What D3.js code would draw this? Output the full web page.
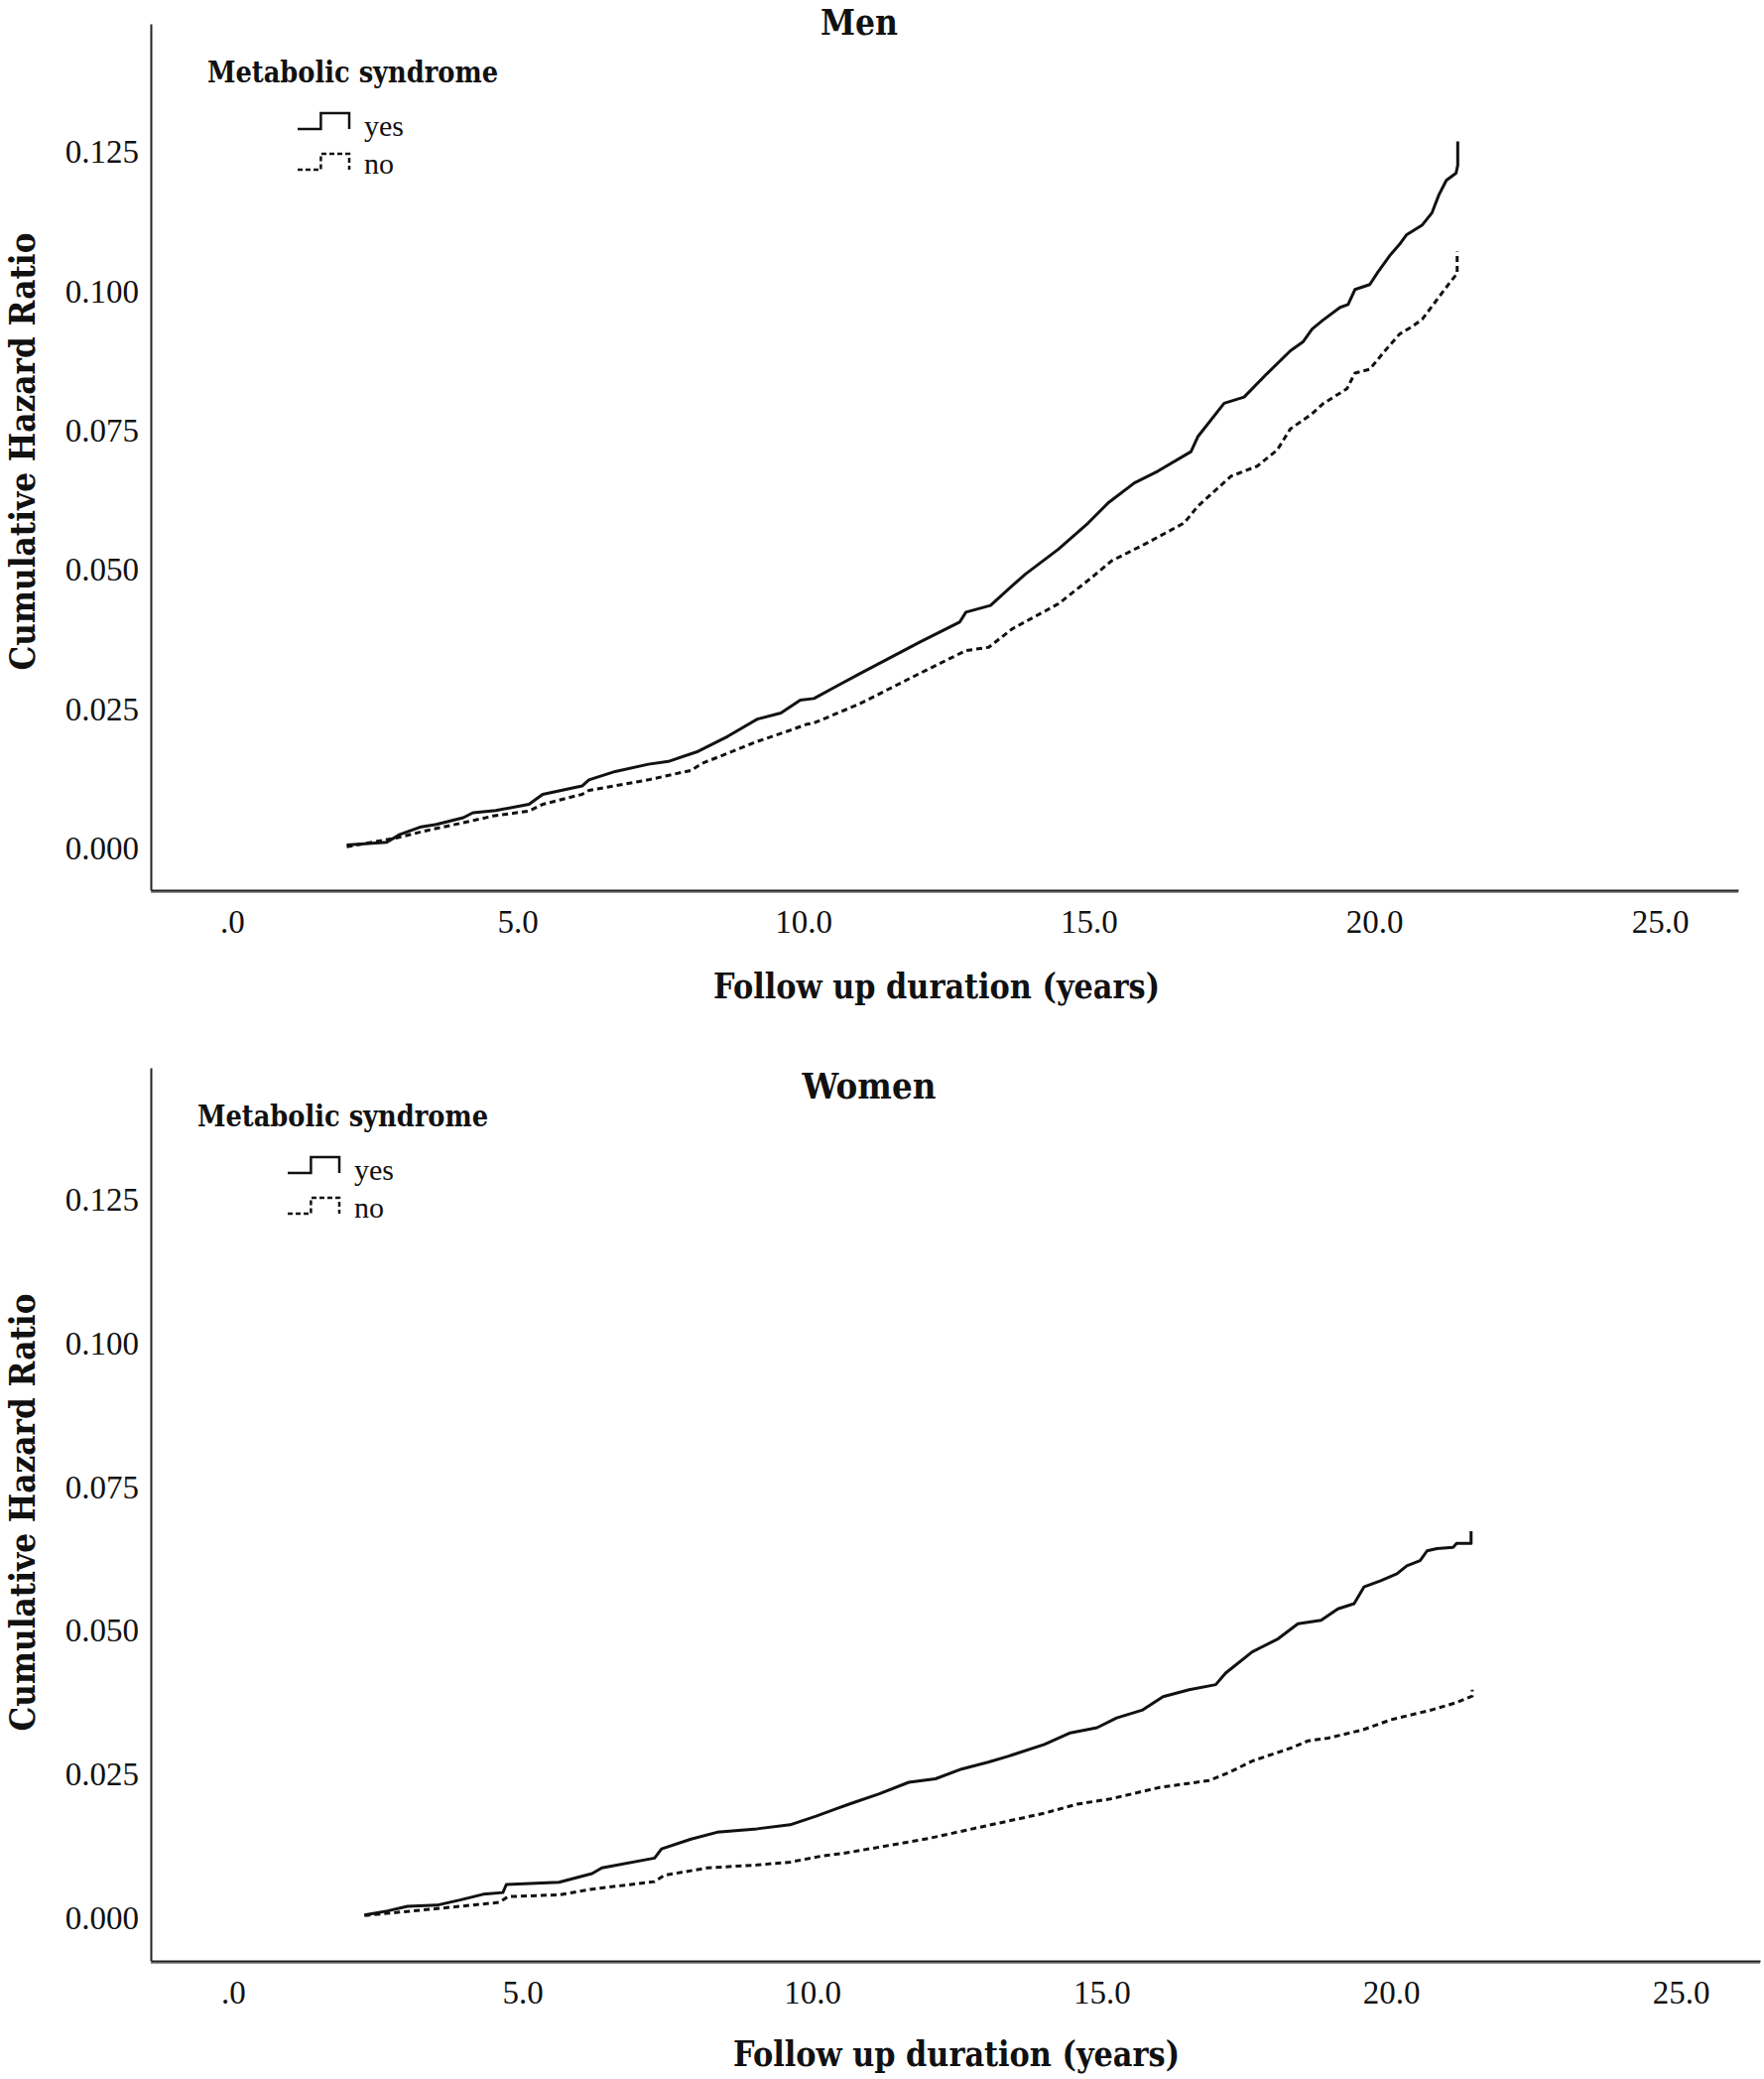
<!DOCTYPE html>
<html>
<head>
<meta charset="utf-8">
<script src="https://cdn.jsdelivr.net/npm/d3@7"></script>
<style>
  body { margin: 0; background: #fff; }
  svg { display: block; }
  .tick text { font-family: "Liberation Serif", serif; font-size: 33px; fill: #111; }
  .bold { font-family: "DejaVu Serif", serif; font-weight: bold; fill: #111; }
  .legend-item { font-family: "Liberation Serif", serif; font-size: 30px; fill: #111; }
</style>
</head>
<body>
<svg id="chart" width="1778" height="2095"></svg>
<script>
// ---- data: [years, cumulative hazard] ----
const menYes = [[2.01,0.0006],[2.71,0.0011],[2.94,0.0025],[3.29,0.0038],[3.58,0.0043],[4.05,0.0055],[4.22,0.0064],
  [4.62,0.0068],[5.2,0.0079],[5.44,0.0097],[6.13,0.0112],[6.25,0.0123],[6.71,0.0138],[7.29,0.0151],[7.64,0.0156],
  [8.16,0.0174],[8.68,0.0201],[9.2,0.0232],[9.61,0.0243],[9.95,0.0266],[10.19,0.0269],[10.6,0.0292],[11.0,0.0314],
  [12.04,0.037],[12.74,0.0406],[12.85,0.0424],[13.28,0.0436],[13.6,0.0466],[13.89,0.0492],[14.47,0.0537],[14.99,0.0584],
  [15.34,0.062],[15.8,0.0656],[16.21,0.0677],[16.79,0.0712],[16.91,0.0739],[17.37,0.0799],[17.72,0.081],[18.12,0.0852],
  [18.53,0.0893],[18.75,0.0909],[18.91,0.0932],[19.1,0.0948],[19.4,0.0971],[19.54,0.0976],[19.66,0.1003],[19.92,0.1012],
  [20.06,0.1034],[20.27,0.1064],[20.44,0.1084],[20.56,0.1101],[20.84,0.1119],[21.01,0.1141],[21.13,0.1173],[21.26,0.1199],
  [21.43,0.1212],[21.46,0.1226],[21.46,0.1269]];
const menNo = [[2.01,0.0003],[2.89,0.0019],[3.41,0.0032],[4.05,0.0046],[4.57,0.0058],[5.2,0.0067],[5.44,0.0079],
  [6.13,0.0097],[6.25,0.0104],[7.29,0.0123],[8.04,0.014],[8.22,0.0152],[9.2,0.0192],[9.72,0.021],[10.07,0.0223],
  [10.19,0.0225],[11.0,0.026],[12.04,0.0314],[12.85,0.0355],[13.25,0.0361],[13.66,0.0394],[14.47,0.0439],[15.05,0.0486],
  [15.4,0.0516],[15.98,0.0546],[16.67,0.0584],[16.91,0.0614],[17.49,0.0668],[17.95,0.0686],[18.3,0.0715],[18.53,0.0753],
  [18.91,0.078],[19.1,0.0798],[19.52,0.0825],[19.66,0.0853],[19.92,0.086],[20.21,0.0896],[20.44,0.0923],[20.67,0.0937],
  [20.84,0.095],[21.01,0.0973],[21.31,0.1014],[21.45,0.1032],[21.45,0.1071]];
const womenYes = [[2.27,0.0005],[2.67,0.0012],[3.01,0.002],[3.52,0.0022],[3.92,0.0031],[4.32,0.0041],[4.66,0.0044],
  [4.72,0.0058],[5.63,0.0062],[6.2,0.0077],[6.37,0.0087],[7.28,0.0104],[7.4,0.012],[7.91,0.0137],[8.36,0.0149],
  [9.05,0.0155],[9.62,0.0162],[10.07,0.0177],[10.42,0.019],[10.64,0.0198],[11.16,0.0216],[11.67,0.0236],[12.13,0.0242],
  [12.58,0.0259],[13.04,0.0271],[13.44,0.0283],[14.01,0.0302],[14.46,0.0322],[14.92,0.0331],[15.26,0.0348],[15.71,0.0362],
  [16.06,0.0385],[16.51,0.0397],[16.97,0.0406],[17.14,0.0426],[17.6,0.0463],[18.05,0.0486],[18.39,0.0512],[18.79,0.0518],
  [19.08,0.0538],[19.36,0.0547],[19.53,0.0576],[19.82,0.0587],[20.1,0.0599],[20.27,0.0613],[20.5,0.0622],[20.62,0.0639],
  [20.79,0.0643],[21.07,0.0645],[21.13,0.0652],[21.38,0.0652],[21.38,0.0673]];
const womenNo = [[2.27,0.0004],[3.52,0.0016],[4.6,0.0027],[4.75,0.0037],[5.63,0.004],[6.2,0.005],[7.28,0.0063],
  [7.45,0.0074],[8.19,0.0087],[9.05,0.0092],[9.62,0.0097],[10.19,0.0108],[10.53,0.0112],[12.0,0.0138],[13.0,0.016],
  [14.0,0.0182],[14.58,0.0198],[15.15,0.0207],[16.0,0.0227],[16.85,0.0239],[17.2,0.0253],[17.6,0.0273],[18.28,0.0296],
  [18.56,0.0308],[18.91,0.0313],[19.5,0.0327],[20.0,0.0345],[20.7,0.0362],[21.1,0.0374],[21.4,0.0386],[21.4,0.0397]];

const xTicks = [0, 5, 10, 15, 20, 25];
const xTickLabels = [".0", "5.0", "10.0", "15.0", "20.0", "25.0"];
const yTicks = [0, 0.025, 0.05, 0.075, 0.1, 0.125];
const yTickLabels = ["0.000", "0.025", "0.050", "0.075", "0.100", "0.125"];
const groups = ["yes", "no"];

const xDomain = [-1.42, 26.37];
const yDomain = [-0.0075, 0.148];

// panel layout (pixels)
const panels = [
  { title: "Men", titleLen: 78, yes: menYes, no: menNo, left: 152, right: 1752, top: 24, bottom: 897,
    titleX: 866, titleY: 35, legendX: 209, xTitleX: 944, xTitleY: 1006, yTitleY: 455 },
  { title: "Women", titleLen: 135, yes: womenYes, no: womenNo, left: 152, right: 1774, top: 1076, bottom: 1976,
    titleX: 876, titleY: 1107, legendX: 199, xTitleX: 964, xTitleY: 2082, yTitleY: 1524 }
];

const svg = d3.select("#chart");
const dashFor = { yes: null, no: "6,4" };

panels.forEach(drawPanel);

function boldText(g, size, len){
  return g.append("text").attr("class", "bold").attr("font-size", size)
    .attr("textLength", len).attr("lengthAdjust", "spacingAndGlyphs");
}

function drawPanel(p){
  const x = d3.scaleLinear().domain(xDomain).range([p.left, p.right]);
  const y = d3.scaleLinear().domain(yDomain).range([p.bottom, p.top]);
  const g = svg.append("g");

  // x axis (with the grey shadow line underneath)
  g.append("line").attr("x1", p.left).attr("x2", p.right)
    .attr("y1", p.bottom + 2).attr("y2", p.bottom + 2)
    .attr("stroke", "#999").attr("stroke-width", 2);
  const xa = g.append("g").attr("transform", `translate(0,${p.bottom})`)
    .call(d3.axisBottom(x).tickValues(xTicks).tickSize(0).tickSizeOuter(0).tickPadding(20)
      .tickFormat((d, i) => xTickLabels[i]));
  xa.select(".domain").attr("stroke", "#222").attr("stroke-width", 2.2);

  const ya = g.append("g").attr("transform", `translate(${p.left},0)`)
    .call(d3.axisLeft(y).tickValues(yTicks).tickSize(0).tickSizeOuter(0).tickPadding(12)
      .tickFormat((d, i) => yTickLabels[i]));
  ya.select(".domain").attr("stroke", "#222").attr("stroke-width", 2);
  g.selectAll(".tick text").attr("font-family", null).attr("font-size", null);

  // curves
  const line = d3.line().x(d => x(d[0])).y(d => y(d[1]));
  groups.forEach(k => {
    g.append("path").datum(p[k])
      .attr("fill", "none").attr("stroke", "#111").attr("stroke-width", 3)
      .attr("stroke-linejoin", "round")
      .attr("stroke-dasharray", dashFor[k])
      .attr("d", line);
  });

  // titles
  boldText(g, 35, p.titleLen).attr("x", p.titleX).attr("y", p.titleY)
    .attr("text-anchor", "middle").text(p.title);
  boldText(g, 36, 450).attr("x", p.xTitleX).attr("y", p.xTitleY)
    .attr("text-anchor", "middle").text("Follow up duration (years)");
  boldText(g, 36, 441)
    .attr("transform", `translate(35,${p.yTitleY}) rotate(-90)`)
    .attr("text-anchor", "middle").text("Cumulative Hazard Ratio");

  // legend
  const lg = g.append("g").attr("transform", `translate(${p.legendX},${p.top})`);
  boldText(lg, 29, 293).attr("x", 0).attr("y", 59).text("Metabolic syndrome");
  const glyph = [[0, 1], [0.45, 1], [0.45, 0], [1, 0], [1, 1]];
  const gx = d3.scaleLinear().domain([0, 1]).range([91, 143]);
  groups.forEach((k, i) => {
    const top = 90 + i * 41;
    const gy = d3.scaleLinear().domain([0, 1]).range([top, top + 16]);
    lg.append("path").datum(glyph)
      .attr("fill", "none").attr("stroke", "#111").attr("stroke-width", 2.5)
      .attr("stroke-dasharray", k === "no" ? "5,3" : null)
      .attr("d", d3.line().x(d => gx(d[0])).y(d => gy(d[1])));
    lg.append("text").attr("class", "legend-item").attr("x", 158).attr("y", 113 + i * 38).text(k);
  });
}
</script>
</body>
</html>
